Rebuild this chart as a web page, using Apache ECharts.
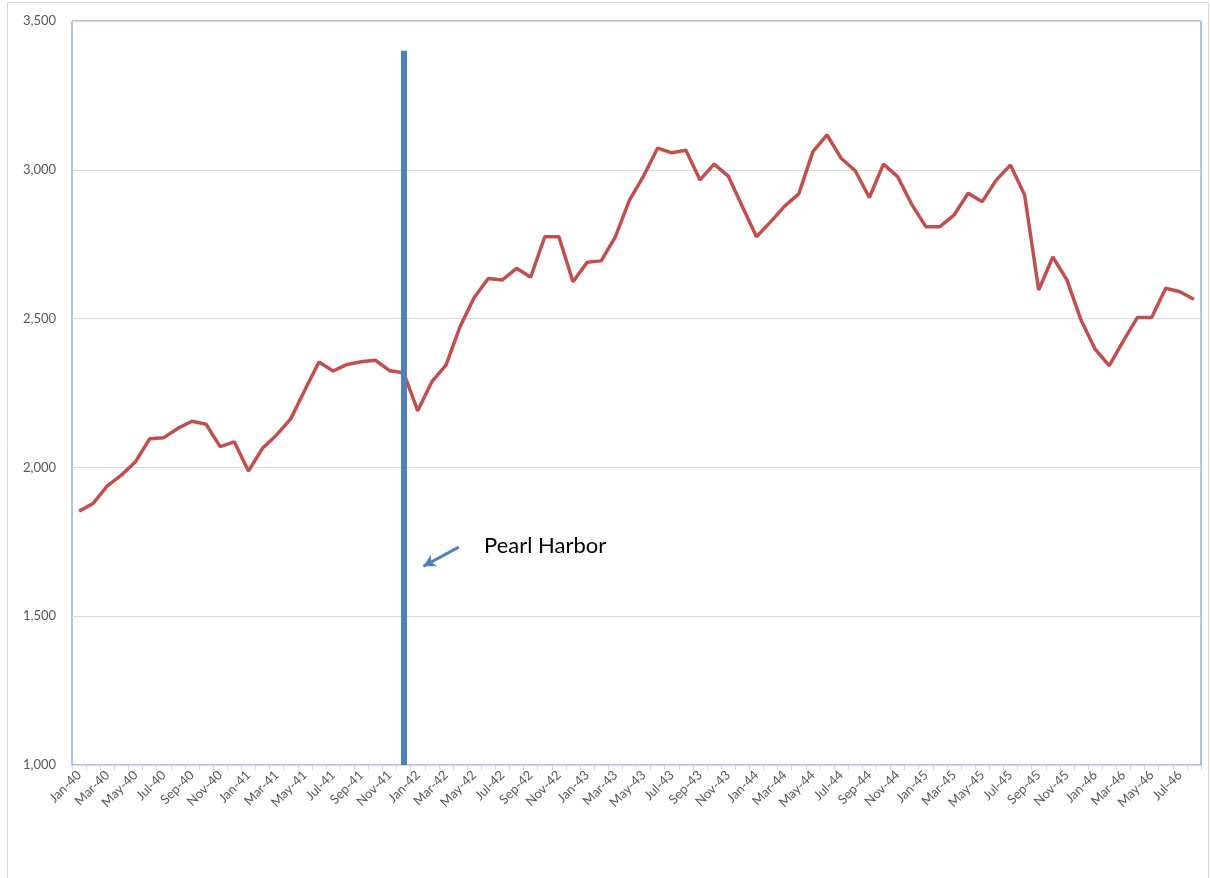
<!DOCTYPE html>
<html>
<head>
<meta charset="utf-8">
<script src="https://cdn.jsdelivr.net/npm/echarts@6/dist/echarts.min.js"></script>
<style>
    html, body { margin: 0; padding: 0; background: #fff; }
    #chart { width: 1210px; height: 878px; }
</style>
</head>
<body>
<div id="chart"></div>
<script>
// monthly categories Jan-40 .. Aug-46
const years = ["40", "41", "42", "43", "44", "45", "46"];
const monthNames = ["Jan", "Feb", "Mar", "Apr", "May", "Jun", "Jul", "Aug", "Sep", "Oct", "Nov", "Dec"];
const months = [];
years.forEach(y => {
    monthNames.forEach(m => months.push(m + "-" + y));
});
months.length = 80;

const values = [
    1853, 1879, 1938, 1974, 2019, 2096, 2100, 2131, 2155, 2145, 2070, 2086,
    1988, 2064, 2109, 2163, 2260, 2354, 2324, 2346, 2355, 2360, 2325, 2318,
    2190, 2288, 2344, 2473, 2571, 2635, 2630, 2669, 2639, 2775, 2775, 2624,
    2689, 2694, 2775, 2898, 2979, 3073, 3057, 3066, 2966, 3019, 2979, 2877,
    2775, 2825, 2878, 2919, 3061, 3117, 3039, 2997, 2907, 3019, 2977, 2884,
    2809, 2809, 2848, 2921, 2893, 2966, 3016, 2915, 2596, 2707, 2630, 2495,
    2397, 2342, 2425, 2504, 2504, 2602, 2590, 2565
];

const yTicks = { min: 1000, max: 3500, step: 500 };

// Pearl Harbor marker
const eventMonth = "Dec-41";
const eventRange = [3400, 1000];
const eventLabel = "Pearl Harbor";
// arrow in (month index, value) units
const arrowFrom = [26.9, 1732];
const arrowTo = [24.4, 1668];

const chart = echarts.init(document.getElementById("chart"));

const option = {
    backgroundColor: "#fff",
    animation: false,
    textStyle: { fontFamily: "Lato, 'Open Sans', sans-serif" },
    grid: {
        left: 72,
        top: 21,
        right: 9,
        bottom: 113,
        show: true,
        borderColor: "#5F8BC6",
        borderWidth: 1
    },
    graphic: [
        {
            type: "rect",
            shape: { x: 7.5, y: 2.5, width: 1201, height: 880 },
            style: { fill: "none", stroke: "#D9D9D9", lineWidth: 1 },
            silent: true
        },
        {
            type: "text",
            left: 484,
            top: 535,
            style: {
                text: eventLabel,
                fill: "#000",
                font: "22px Lato, 'Open Sans', sans-serif"
            }
        }
    ],
    xAxis: [
        {
            type: "category",
            data: months,
            boundaryGap: true,
            axisLine: { lineStyle: { color: "#D9D9D9", width: 1 } },
            axisTick: {
                show: true,
                interval: 0,
                length: 5,
                lineStyle: { color: "#D9D9D9" }
            },
            axisLabel: {
                interval: 1,
                rotate: 45,
                color: "#595959",
                fontSize: 13,
                margin: 8
            },
            splitLine: { show: false }
        },
        {
            type: "value",
            min: -0.5,
            max: 79.5,
            show: false
        }
    ],
    yAxis: {
        type: "value",
        min: yTicks.min,
        max: yTicks.max,
        interval: yTicks.step,
        axisLine: { show: false },
        axisTick: { show: false },
        axisLabel: {
            color: "#595959",
            fontSize: 13,
            margin: 16,
            formatter: v => v.toLocaleString("en-US")
        },
        splitLine: { lineStyle: { color: "#D9D9D9", width: 1 } }
    },
    series: [
        {
            type: "line",
            data: values,
            showSymbol: false,
            symbol: "none",
            lineStyle: { color: "#C0504D", width: 3.5 },
            z: 3,
            markLine: {
                silent: true,
                symbol: ["none", "none"],
                label: { show: false },
                lineStyle: { color: "#4F81BD", width: 6, type: "solid" },
                data: [[
                    { coord: [eventMonth, eventRange[0]] },
                    { coord: [eventMonth, eventRange[1]] }
                ]]
            }
        },
        {
            type: "line",
            xAxisIndex: 1,
            data: [],
            markLine: {
                silent: true,
                symbol: ["none", "arrow"],
                symbolSize: [10, 12],
                label: { show: false },
                lineStyle: { color: "#4F81BD", width: 3, type: "solid" },
                data: [[
                    { coord: arrowFrom },
                    { coord: arrowTo }
                ]]
            }
        }
    ]
};

chart.setOption(option);
</script>
</body>
</html>
